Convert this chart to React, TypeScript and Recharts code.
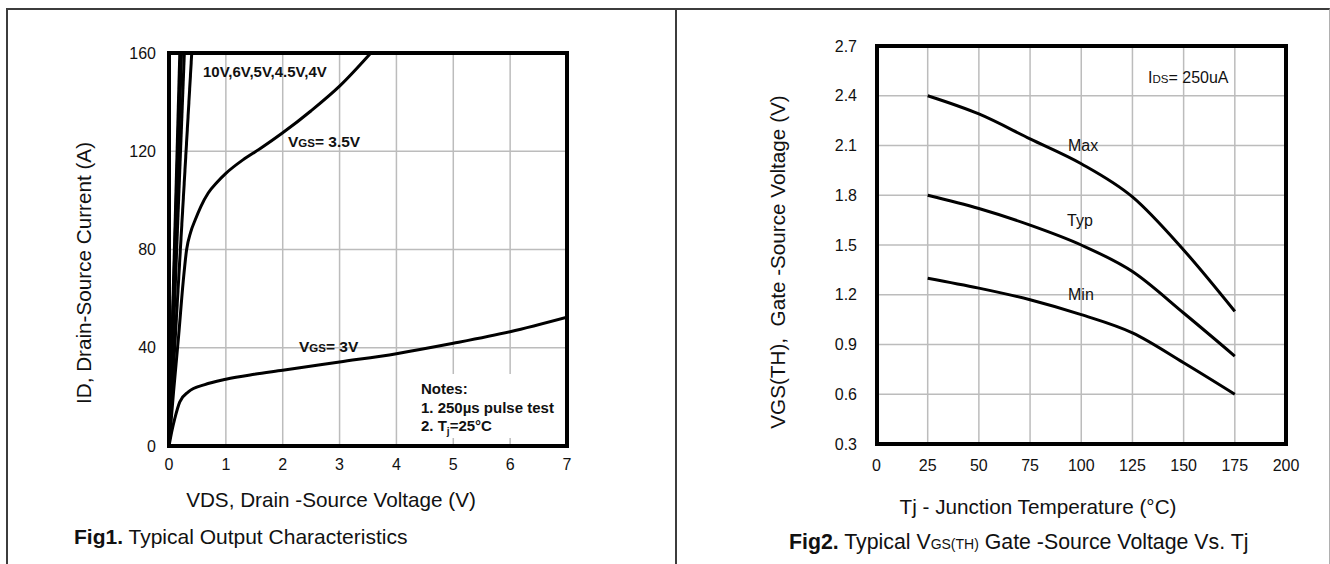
import React from 'react';
import { LineChart, Line, XAxis, YAxis, CartesianGrid } from 'recharts';

const FONT = "'Liberation Sans', Arial, Helvetica, sans-serif";

// Fig1: typical output characteristics, VDS (V) vs ID (A)
const vdsTicks = [0, 1, 2, 3, 4, 5, 6, 7];
const idTicks = [0, 40, 80, 120, 160];

const vgs10Vds = [0, 0.19];
const vgs10Id = [0, 160];
const vgs6Vds = [0, 0.205];
const vgs6Id = [0, 160];
const vgs5Vds = [0, 0.22];
const vgs5Id = [0, 160];
const vgs45Vds = [0, 0.27];
const vgs45Id = [0, 160];
const vgs4Vds = [0, 0.4];
const vgs4Id = [0, 160];

const vgs35Vds = [0, 0.08, 0.17, 0.25, 0.31, 0.38, 0.46, 0.56, 0.69, 0.85, 1.0, 1.3, 1.6, 2.0, 2.5, 3.0, 3.55];
const vgs35Id = [0, 22, 45, 67, 80, 87, 92, 97.5, 103, 107.5, 111, 116.5, 121, 127.5, 136.5, 146.5, 160];

const vgs3Vds = [0, 0.05, 0.1, 0.19, 0.34, 0.63, 1.0, 1.5, 2.0, 3.0, 4.0, 5.0, 6.0, 7.0];
const vgs3Id = [0, 6, 11, 18, 22, 25, 27.2, 29.2, 30.8, 34.2, 37.6, 41.8, 46.5, 52.4];

// Fig2: VGS(TH) vs junction temperature
const tjTicks = [0, 25, 50, 75, 100, 125, 150, 175, 200];
const vthTicks = [0.3, 0.6, 0.9, 1.2, 1.5, 1.8, 2.1, 2.4, 2.7];
const tj = [25, 50, 75, 100, 125, 150, 175];
const vthMax = [2.4, 2.29, 2.14, 1.99, 1.79, 1.47, 1.1];
const vthTyp = [1.8, 1.72, 1.62, 1.5, 1.34, 1.09, 0.83];
const vthMin = [1.3, 1.24, 1.17, 1.08, 0.97, 0.79, 0.6];

const zip = (xs: number[], ys: number[]) => xs.map((x, i) => ({ x, y: ys[i] }));

const fig1Series = [
  { name: '10V', data: zip(vgs10Vds, vgs10Id), type: 'linear' },
  { name: '6V', data: zip(vgs6Vds, vgs6Id), type: 'linear' },
  { name: '5V', data: zip(vgs5Vds, vgs5Id), type: 'linear' },
  { name: '4.5V', data: zip(vgs45Vds, vgs45Id), type: 'linear' },
  { name: '4V', data: zip(vgs4Vds, vgs4Id), type: 'linear' },
  { name: '3.5V', data: zip(vgs35Vds, vgs35Id), type: 'monotone' },
  { name: '3V', data: zip(vgs3Vds, vgs3Id), type: 'monotone' },
];

const fig2Data = tj.map((t, i) => ({ t, max: vthMax[i], typ: vthTyp[i], min: vthMin[i] }));

const tickStyle = { fill: '#111', fontSize: 16, fontFamily: FONT };
const gridColor = '#bcbcbc';

type TxtProps = {
  x: number;
  y: number;
  size: number;
  bold?: boolean;
  center?: boolean;
  rotate?: boolean;
  children: React.ReactNode;
};

function Txt({ x, y, size, bold, center, rotate, children }: TxtProps) {
  let transform = center ? 'translate(-50%,-50%)' : 'translate(0,-50%)';
  if (rotate) transform = 'translate(-50%,-50%) rotate(-90deg)';
  return (
    <div
      style={{
        position: 'absolute',
        left: x,
        top: y,
        transform,
        fontSize: size,
        fontWeight: bold ? 700 : 400,
        lineHeight: 1,
        whiteSpace: 'nowrap',
        color: '#111',
      }}
    >
      {children}
    </div>
  );
}

function Frame({ left, top, width, height }: { left: number; top: number; width: number; height: number }) {
  return (
    <div
      style={{
        position: 'absolute',
        left: left - 2,
        top: top - 2,
        width: width + 4,
        height: height + 4,
        border: '4px solid #000',
        boxSizing: 'border-box',
        pointerEvents: 'none',
      }}
    />
  );
}

export default function App() {
  return (
    <div
      style={{
        position: 'absolute',
        left: 0,
        top: 0,
        width: 1330,
        height: 564,
        overflow: 'hidden',
        background: '#fff',
        fontFamily: FONT,
      }}
    >
      {/* page frame */}
      <div
        style={{
          position: 'absolute',
          left: 6,
          top: 8,
          width: 1324,
          height: 600,
          borderTop: '2px solid #3c3c3c',
          borderLeft: '2px solid #3c3c3c',
          borderRight: '1px solid #b0b0b0',
          boxSizing: 'border-box',
        }}
      />
      <div style={{ position: 'absolute', left: 675, top: 8, width: 2, height: 600, background: '#3c3c3c' }} />

      {/* Fig1 */}
      <LineChart
        width={620}
        height={520}
        margin={{ top: 53, right: 53, bottom: 44, left: 109 }}
        style={{ position: 'absolute', left: 0, top: 0 }}
      >
        <CartesianGrid stroke={gridColor} strokeWidth={1.5} />
        <XAxis
          dataKey="x"
          type="number"
          domain={[0, 7]}
          ticks={vdsTicks}
          height={30}
          axisLine={false}
          tickLine={false}
          tickSize={0}
          tickMargin={13}
          tick={tickStyle}
          allowDataOverflow
        />
        <YAxis
          type="number"
          domain={[0, 160]}
          ticks={idTicks}
          width={60}
          axisLine={false}
          tickLine={false}
          tickSize={0}
          tickMargin={13}
          tick={tickStyle}
          allowDataOverflow
        />
        {fig1Series.map(s => (
          <Line
            key={s.name}
            data={s.data}
            dataKey="y"
            name={s.name}
            type={s.type as 'linear' | 'monotone'}
            stroke="#000"
            strokeWidth={3}
            dot={false}
            isAnimationActive={false}
          />
        ))}
      </LineChart>
      <div style={{ position: 'absolute', left: 412, top: 374, width: 152, height: 64, background: '#fff' }} />
      <Frame left={169} top={53} width={398} height={393} />

      <Txt x={203} y={70.5} size={15} bold>10V,6V,5V,4.5V,4V</Txt>
      <Txt x={288} y={142} size={15.5} bold>
        V<span style={{ fontSize: 11.5 }}>GS</span>= 3.5V
      </Txt>
      <Txt x={299} y={347} size={15.5} bold>
        V<span style={{ fontSize: 11.5 }}>GS</span>= 3V
      </Txt>
      <div
        style={{
          position: 'absolute',
          left: 421,
          top: 380,
          fontSize: 15,
          fontWeight: 700,
          lineHeight: '18.5px',
          color: '#111',
          whiteSpace: 'nowrap',
        }}
      >
        <div>Notes:</div>
        <div>1. 250µs pulse test</div>
        <div>
          2. T<span style={{ fontSize: 10, verticalAlign: -4 }}>j</span>=25°C
        </div>
      </div>

      <Txt x={83.5} y={273} size={20.7} rotate>ID, Drain-Source Current (A)</Txt>
      <Txt x={331} y={500} size={20.7} center>VDS, Drain -Source Voltage (V)</Txt>
      <Txt x={74} y={536} size={21}>
        <b>Fig1.</b> Typical Output Characteristics
      </Txt>

      {/* Fig2 */}
      <LineChart
        width={650}
        height={520}
        data={fig2Data}
        margin={{ top: 46, right: 44, bottom: 46, left: 136.5 }}
        style={{ position: 'absolute', left: 680, top: 0 }}
      >
        <CartesianGrid stroke={gridColor} strokeWidth={1.5} />
        <XAxis
          dataKey="t"
          type="number"
          domain={[0, 200]}
          ticks={tjTicks}
          height={30}
          axisLine={false}
          tickLine={false}
          tickSize={0}
          tickMargin={15.5}
          tick={tickStyle}
        />
        <YAxis
          type="number"
          domain={[0.3, 2.7]}
          ticks={vthTicks}
          tickFormatter={(v: number) => v.toFixed(1)}
          width={60}
          axisLine={false}
          tickLine={false}
          tickSize={0}
          tickMargin={19.5}
          tick={tickStyle}
        />
        <Line dataKey="max" type="monotone" stroke="#000" strokeWidth={3} dot={false} isAnimationActive={false} />
        <Line dataKey="typ" type="monotone" stroke="#000" strokeWidth={3} dot={false} isAnimationActive={false} />
        <Line dataKey="min" type="monotone" stroke="#000" strokeWidth={3} dot={false} isAnimationActive={false} />
      </LineChart>
      <Frame left={876.5} top={46} width={409.5} height={398} />

      <Txt x={1148} y={78} size={16}>
        I<span style={{ fontSize: 11.5 }}>DS</span>= 250uA
      </Txt>
      <Txt x={1068} y={146} size={16}>Max</Txt>
      <Txt x={1067} y={221} size={16}>Typ</Txt>
      <Txt x={1068} y={295} size={16}>Min</Txt>

      <Txt x={778} y={262} size={20.7} rotate>VGS(TH),&nbsp; Gate -Source Voltage (V)</Txt>
      <Txt x={1038} y={507} size={20.7} center>Tj - Junction Temperature (°C)</Txt>
      <Txt x={789} y={543} size={21.3}>
        <b>Fig2.</b> Typical V<span style={{ fontSize: 14 }}>GS(TH)</span> Gate -Source Voltage Vs. Tj
      </Txt>
    </div>
  );
}
